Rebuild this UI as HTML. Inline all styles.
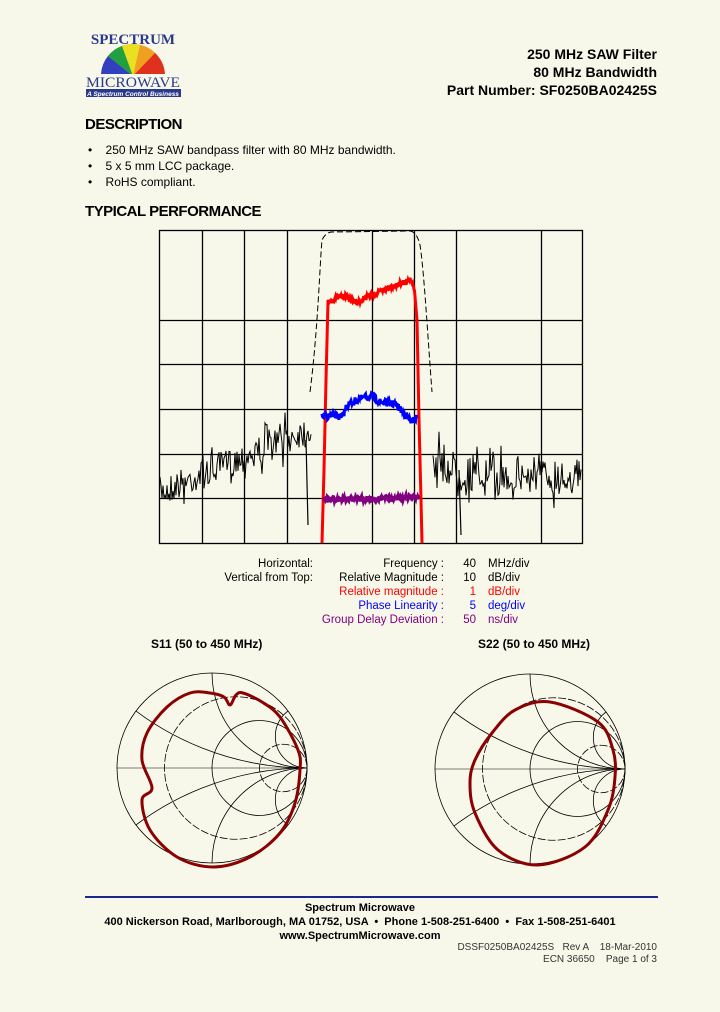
<!DOCTYPE html>
<html><head><meta charset="utf-8"><style>
html,body{margin:0;padding:0;width:720px;height:1012px;overflow:hidden;background:#f8f8ea;}
#p{position:relative;width:720px;height:1012px;background:#f8f8ea;font-family:"Liberation Sans",Arial,sans-serif;color:#000;overflow:hidden}
.a{position:absolute;white-space:nowrap}
svg{display:block}
</style></head><body><div id="p">
<svg class="a" style="left:0;top:0" width="720" height="1012" id="s">
<defs><clipPath id="half"><rect x="90" y="20" width="90" height="54"/></clipPath></defs>
<g clip-path="url(#half)">
<circle cx="133" cy="76" r="32" fill="#f0a020"/>
<path d="M133 76 L101 76 A32 32 0 0 1 108 56Z" fill="#3040c0"/>
<path d="M133 76 L108 56 A32 32 0 0 1 122 46Z" fill="#20a040"/>
<path d="M133 76 L122 46 A32 32 0 0 1 140 45Z" fill="#e8e020"/>
<path d="M133 76 L155 53 A32 32 0 0 1 165 76Z" fill="#e03020"/>
</g>
<text x="133" y="44" font-family="Liberation Serif" font-size="15" fill="#2a3a8a" text-anchor="middle" font-weight="bold">SPECTRUM</text>
<text x="86" y="87" font-family="Liberation Serif" font-size="15" fill="#2a3a8a" textLength="94" lengthAdjust="spacingAndGlyphs">MICROWAVE</text>
<rect x="86" y="89" width="95" height="8" fill="#2a3a8a"/>
<text x="133" y="96" font-size="6.5" fill="#fff" text-anchor="middle" font-style="italic" font-weight="bold">A Spectrum Control Business</text>
<g stroke="#000" stroke-width="1.3" fill="none" id="grid">
<rect x="159.5" y="230.5" width="423" height="313"/>
</g>
<g id="tr"></g>
<g id="sm"></g>
<line x1="85" y1="897" x2="658" y2="897" stroke="#1a2a8a" stroke-width="2"/>
</svg>
<div class="a" style="right:63px;top:45px;font-size:14px;font-weight:bold;text-align:right;line-height:18px">250 MHz SAW Filter<br>80 MHz Bandwidth<br>Part Number: SF0250BA02425S</div>
<div class="a" style="left:85px;top:116px;font-size:15px;font-weight:bold;letter-spacing:-0.5px">DESCRIPTION</div>
<div class="a" style="left:88px;top:142px;font-size:12px;line-height:16px">•&nbsp;&nbsp;&nbsp;&nbsp;250 MHz SAW bandpass filter with 80 MHz bandwidth.<br>•&nbsp;&nbsp;&nbsp;&nbsp;5 x 5 mm LCC package.<br>•&nbsp;&nbsp;&nbsp;&nbsp;RoHS compliant.</div>
<div class="a" style="left:85px;top:203px;font-size:15px;font-weight:bold;letter-spacing:-0.5px">TYPICAL PERFORMANCE</div>
<div class="a" style="right:407px;top:557px;font-size:11.5px;text-align:right;line-height:14px">Horizontal:<br>Vertical from Top:</div>
<div class="a" style="right:276px;top:557px;font-size:11.5px;text-align:right;line-height:14px">Frequency :<br>Relative Magnitude :<br><span style="color:#f00">Relative magnitude :</span><br><span style="color:#00f">Phase Linearity :</span><br><span style="color:#800080">Group Delay Deviation :</span></div>
<div class="a" style="right:244px;top:557px;font-size:11.5px;text-align:right;line-height:14px">40<br>10<br><span style="color:#f00">1</span><br><span style="color:#00f">5</span><br><span style="color:#800080">50</span></div>
<div class="a" style="left:488px;top:557px;font-size:11.5px;line-height:14px">MHz/div<br>dB/div<br><span style="color:#f00">dB/div</span><br><span style="color:#00f">deg/div</span><br><span style="color:#800080">ns/div</span></div>
<div class="a" style="left:151px;top:637px;font-size:12px;font-weight:bold">S11 (50 to 450 MHz)</div>
<div class="a" style="left:478px;top:637px;font-size:12px;font-weight:bold">S22 (50 to 450 MHz)</div>
<div class="a" style="left:0;width:720px;text-align:center;top:901px;font-size:11px;font-weight:bold;line-height:14px">Spectrum Microwave<br>400 Nickerson Road, Marlborough, MA 01752, USA &nbsp;•&nbsp; Phone 1-508-251-6400 &nbsp;•&nbsp; Fax 1-508-251-6401<br>www.SpectrumMicrowave.com</div>
<div class="a" style="right:63px;top:942px;font-size:10px;text-align:right;line-height:12px;color:#333">DSSF0250BA02425S &nbsp; Rev A &nbsp;&nbsp; 18-Mar-2010<br>ECN 36650 &nbsp;&nbsp; Page 1 of 3</div>
</div>
<script>
var NS="http://www.w3.org/2000/svg";
function el(p,t,a){var e=document.createElementNS(NS,t);for(var k in a)e.setAttribute(k,a[k]);p.appendChild(e);return e;}
var g=document.getElementById('grid');
[202,244,287,372,414,456,541].forEach(function(x){el(g,'line',{x1:x+.5,y1:231,x2:x+.5,y2:543});});
[320,364,409,454,498].forEach(function(y){el(g,'line',{x1:159,y1:y+.5,x2:582,y2:y+.5});});
var seed=7;function r(){seed=(seed*16807)%2147483647;return seed/2147483647;}
var tr=document.getElementById('tr');
var d="",first=true;
for(var x=160;x<=581;x+=1){
 if(x>=312&&x<=432){first=true;continue;}
 var base=x<312?(492-(x-160)*0.42):(462+Math.min(14,(x-432)*0.3));
 var amp=x<312?30:36;
 var y=base+(r()-0.5)*amp*(r()<0.2?1.8:1);
 d+=(first?"M":"L")+x+" "+y.toFixed(1);first=false;
}
el(tr,'path',{d:d,stroke:'#000','stroke-width':1,fill:'none'});
el(tr,'path',{d:"M306 440 L308 525 M459 470 L461 535",stroke:'#000','stroke-width':1.2,fill:'none'});
el(tr,'path',{d:"M310 392 C318 330 320 260 322 240 Q326 232 332 232 L410 231 Q417 232 420 245 C424 270 428 340 432 392",stroke:'#000','stroke-width':1,fill:'none','stroke-dasharray':'6,3'});
function series(pts,jit,step){var s="";for(var i=0;i<pts.length-1;i++){var a=pts[i],b=pts[i+1];for(var x=a[0];x<b[0];x+=step){var t=(x-a[0])/(b[0]-a[0]);var y=a[1]+(b[1]-a[1])*t+(r()-0.5)*jit;s+=(s?"L":"M")+x.toFixed(1)+" "+y.toFixed(1);}}return s;}
var rt=series([[328,302],[336,298],[345,296],[352,300],[360,302],[368,296],[380,292],[392,286],[400,284],[410,280],[415,290]],5,0.5);
el(tr,'path',{d:"M322 543 L324 470 L326 380 L328 302 "+rt.replace(/^M/,"L")+" L417 320 L419 420 L421 500 L422 543",stroke:'#f00','stroke-width':3,fill:'none'});
el(tr,'path',{d:series([[322,417],[335,415],[342,418],[347,405],[355,401],[362,398],[372,396],[380,402],[395,404],[405,414],[412,422],[417,417]],7,0.5),stroke:'#00f','stroke-width':3,fill:'none'});
el(tr,'path',{d:series([[324,499],[360,499],[420,497]],5,0.5),stroke:'#800080','stroke-width':3.5,fill:'none'});
var sm=document.getElementById('sm');
function smith(cx,cy,R,pts){
 var gg=el(sm,'g',{stroke:'#000','stroke-width':0.8,fill:'none'});
 var id='c'+cx;var cp=el(sm,'clipPath',{id:id});el(cp,'circle',{cx:cx,cy:cy,r:R});
 el(gg,'circle',{cx:cx,cy:cy,r:R});
 [1/3,1,3].forEach(function(v,i){var rr=R/(1+v);el(gg,'circle',{cx:cx+R-rr,cy:cy,r:rr,'stroke-dasharray':i==1?'':'8,2'});});
 var g2=el(sm,'g',{stroke:'#000','stroke-width':0.8,fill:'none','clip-path':'url(#'+id+')'});
 [1/3,1,3].forEach(function(v){var rr=R/v;el(g2,'circle',{cx:cx+R,cy:cy-rr,r:rr});el(g2,'circle',{cx:cx+R,cy:cy+rr,r:rr});});
 el(g2,'line',{x1:cx-R,y1:cy,x2:cx+R,y2:cy,'stroke-width':0.5});
 var s="";var n=pts.length;
 for(var i=0;i<n;i++){var p0=pts[(i-1+n)%n],p1=pts[i],p2=pts[(i+1)%n],p3=pts[(i+2)%n];
  if(i==0)s="M"+p1[0]+" "+p1[1];
  s+="C"+(p1[0]+(p2[0]-p0[0])/6).toFixed(1)+" "+(p1[1]+(p2[1]-p0[1])/6).toFixed(1)+" "+(p2[0]-(p3[0]-p1[0])/6).toFixed(1)+" "+(p2[1]-(p3[1]-p1[1])/6).toFixed(1)+" "+p2[0]+" "+p2[1];}
 el(sm,'path',{d:s+"Z",stroke:'#8b0000','stroke-width':3,fill:'none'});
}
smith(212,768,95,[[210,693],[224,697],[230,705],[236,695],[243,693],[262,702],[280,717],[298,750],[300,770],[295,803],[280,833],[250,857],[213,867],[177,857],[150,830],[142,800],[152,788],[142,760],[147,733],[167,707],[190,693]]);
smith(530,769,95,[[550,702],[598,722],[613,750],[615,777],[608,810],[585,847],[538,865],[498,850],[475,813],[470,783],[475,760],[492,733],[515,710]]);
</script>
</body></html>
